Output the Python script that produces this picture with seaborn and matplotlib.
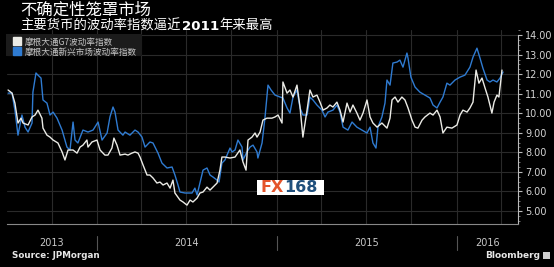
import numpy as np
import pandas as pd
import matplotlib
matplotlib.use("Agg")
import matplotlib.pyplot as plt
import matplotlib.dates as mdates
import matplotlib.transforms as mtransforms
from matplotlib.lines import Line2D
from matplotlib.patches import Rectangle
from matplotlib.ticker import FixedLocator, FormatStrFormatter, MultipleLocator
import seaborn as sns

# ---------------- data ----------------
title = "不确定性笼罩市场"
subtitle_a = "主要货币的波动率指数逼近"
subtitle_b = "2011"
subtitle_c = "年来最高"
series_names = ["摩根大通G7波动率指数", "摩根大通新兴市场波动率指数"]
year_labels = ["2013", "2014", "2015", "2016"]
y_ticks = [5, 6, 7, 8, 9, 10, 11, 12, 13, 14]
source_text = "Source: JPMorgan"
brand_text = "Bloomberg"

# dates as decimal years
g7_t = [2013.506, 2013.528, 2013.544, 2013.561, 2013.578, 2013.589, 2013.617, 2013.639, 2013.656, 2013.672,
        2013.694, 2013.700, 2013.722, 2013.739, 2013.756, 2013.783, 2013.806, 2013.822, 2013.839, 2013.867,
        2013.889, 2013.906, 2013.922, 2013.944, 2013.950, 2013.972, 2014.000, 2014.017, 2014.044, 2014.061,
        2014.083, 2014.094, 2014.111, 2014.128, 2014.156, 2014.172, 2014.194, 2014.211, 2014.228, 2014.239,
        2014.256, 2014.278, 2014.294, 2014.311, 2014.333, 2014.350, 2014.367, 2014.389, 2014.406, 2014.422,
        2014.433, 2014.461, 2014.478, 2014.500, 2014.517, 2014.533, 2014.556, 2014.572, 2014.589, 2014.611,
        2014.628, 2014.644, 2014.667, 2014.683, 2014.694, 2014.711, 2014.739, 2014.767, 2014.794, 2014.811,
        2014.828, 2014.839, 2014.861, 2014.878, 2014.889, 2014.906, 2014.922, 2014.944, 2014.972, 2014.989,
        2015.006, 2015.028, 2015.033, 2015.056, 2015.072, 2015.089, 2015.111, 2015.128, 2015.144, 2015.167,
        2015.183, 2015.200, 2015.222, 2015.239, 2015.256, 2015.278, 2015.294, 2015.311, 2015.333, 2015.350,
        2015.367, 2015.389, 2015.406, 2015.422, 2015.444, 2015.461, 2015.478, 2015.500, 2015.517, 2015.533,
        2015.556, 2015.583, 2015.611, 2015.628, 2015.639, 2015.656, 2015.672, 2015.694, 2015.711, 2015.728,
        2015.750, 2015.767, 2015.783, 2015.806, 2015.822, 2015.850, 2015.867, 2015.889, 2015.906, 2015.922,
        2015.944, 2015.972, 2016.000, 2016.017, 2016.033, 2016.056, 2016.072, 2016.089, 2016.106, 2016.122,
        2016.139, 2016.156, 2016.172, 2016.194, 2016.206, 2016.222, 2016.233, 2016.250]
g7_v = [11.19, 11.03, 10.52, 9.50, 9.75, 9.50, 9.40, 9.81, 9.91, 10.16,
        9.75, 9.24, 8.88, 8.78, 8.63, 8.48, 8.02, 7.61, 8.12, 8.12,
        7.96, 8.27, 8.37, 8.63, 8.27, 8.53, 8.63, 8.12, 7.86, 7.86,
        8.22, 8.73, 8.37, 7.86, 7.91, 7.86, 7.96, 8.02, 7.96, 7.76,
        7.35, 6.84, 6.84, 6.69, 6.43, 6.48, 6.33, 6.43, 6.17, 6.58,
        5.92, 5.56, 5.46, 5.30, 5.56, 5.46, 5.66, 5.92, 5.97, 6.22,
        6.07, 6.22, 6.43, 7.09, 7.76, 7.76, 7.71, 7.76, 8.12, 7.51,
        7.09, 8.63, 8.78, 8.99, 8.78, 9.04, 9.65, 9.75, 9.75, 9.81,
        9.91, 9.50, 11.60, 11.03, 11.19, 10.83, 11.44, 10.32, 8.78, 10.16,
        11.19, 10.83, 10.93, 10.57, 10.16, 10.27, 10.42, 10.32, 10.57, 10.16,
        9.55, 10.52, 10.06, 10.42, 10.01, 9.65, 10.01, 10.68, 9.81, 9.50,
        9.29, 9.50, 9.24, 9.75, 10.68, 10.83, 10.57, 10.83, 10.68, 10.27,
        9.65, 9.29, 9.24, 9.65, 9.81, 10.01, 9.91, 10.16, 9.81, 8.99,
        9.29, 9.24, 9.40, 9.91, 10.16, 10.06, 10.27, 10.57, 12.21, 11.54,
        11.80, 11.29, 10.83, 10.01, 10.57, 10.93, 10.83, 12.21]

em_t = [2013.506, 2013.528, 2013.544, 2013.561, 2013.583, 2013.600, 2013.617, 2013.639, 2013.644, 2013.661,
        2013.672, 2013.689, 2013.700, 2013.722, 2013.739, 2013.756, 2013.778, 2013.806, 2013.833, 2013.850,
        2013.867, 2013.878, 2013.894, 2013.922, 2013.950, 2013.978, 2014.006, 2014.028, 2014.056, 2014.072,
        2014.089, 2014.100, 2014.117, 2014.144, 2014.156, 2014.183, 2014.211, 2014.228, 2014.250, 2014.267,
        2014.294, 2014.311, 2014.339, 2014.361, 2014.389, 2014.417, 2014.433, 2014.450, 2014.461, 2014.489,
        2014.528, 2014.544, 2014.556, 2014.572, 2014.589, 2014.611, 2014.628, 2014.644, 2014.667, 2014.678,
        2014.694, 2014.711, 2014.739, 2014.750, 2014.767, 2014.783, 2014.806, 2014.811, 2014.833, 2014.850,
        2014.867, 2014.889, 2014.894, 2014.917, 2014.933, 2014.950, 2014.967, 2014.989, 2015.017, 2015.033,
        2015.056, 2015.072, 2015.089, 2015.111, 2015.128, 2015.144, 2015.167, 2015.183, 2015.200, 2015.222,
        2015.250, 2015.267, 2015.283, 2015.311, 2015.333, 2015.350, 2015.367, 2015.394, 2015.417, 2015.444,
        2015.472, 2015.500, 2015.517, 2015.533, 2015.550, 2015.561, 2015.583, 2015.600, 2015.611, 2015.628,
        2015.644, 2015.667, 2015.683, 2015.700, 2015.722, 2015.728, 2015.744, 2015.767, 2015.794, 2015.822,
        2015.850, 2015.867, 2015.889, 2015.906, 2015.922, 2015.944, 2015.961, 2015.989, 2016.017, 2016.044,
        2016.072, 2016.089, 2016.111, 2016.128, 2016.144, 2016.167, 2016.183, 2016.200, 2016.222, 2016.239,
        2016.256]
em_v = [11.03, 11.03, 10.16, 8.88, 9.91, 9.29, 9.04, 9.50, 11.08, 12.06,
        11.95, 11.80, 10.68, 10.52, 9.91, 10.06, 9.75, 9.14, 8.27, 8.12,
        9.55, 8.63, 8.48, 9.14, 9.04, 9.14, 9.55, 8.63, 8.99, 9.81,
        10.32, 10.06, 9.14, 8.88, 9.04, 8.88, 9.14, 9.04, 8.78, 8.27,
        8.53, 8.48, 7.96, 7.45, 7.20, 7.25, 6.84, 6.33, 5.97, 5.92,
        5.92, 6.17, 5.82, 6.43, 7.09, 7.20, 6.84, 6.74, 6.58, 6.48,
        7.45, 7.61, 8.22, 8.02, 8.12, 8.63, 8.27, 7.61, 8.02, 8.27,
        8.37, 8.02, 7.71, 8.48, 9.75, 11.44, 11.19, 10.93, 10.83, 10.78,
        10.27, 10.01, 10.83, 11.19, 10.27, 9.91, 9.91, 10.83, 10.68, 10.42,
        10.16, 9.81, 10.06, 10.16, 10.42, 10.06, 9.29, 9.14, 9.55, 9.29,
        9.14, 8.99, 9.29, 8.48, 8.22, 9.29, 9.81, 10.52, 11.70, 11.44,
        12.57, 12.62, 12.72, 12.36, 13.08, 12.82, 11.85, 11.34, 11.08, 10.93,
        10.78, 10.42, 10.27, 10.57, 10.83, 11.54, 11.44, 11.70, 11.85, 11.95,
        12.36, 12.87, 13.33, 12.82, 12.31, 11.70, 11.60, 11.70, 11.60, 11.80,
        12.11]

x_start_year = 2013.500
x_end_year = 2016.339
y_min, y_max = 4.36, 14.26

# ---------------- helpers ----------------
def to_date(yrs):
    yrs = np.asarray(yrs, dtype=float)
    base = pd.Timestamp("2013-01-01")
    return base + pd.to_timedelta((yrs - 2013.0) * 365.25, unit="D")

g7_df = pd.DataFrame({"date": to_date(g7_t), "value": g7_v})
em_df = pd.DataFrame({"date": to_date(em_t), "value": em_v})

# ---------------- style ----------------
sns.set_theme(style="dark")
plt.rcParams.update({
    "figure.facecolor": "black",
    "axes.facecolor": "black",
    "savefig.facecolor": "black",
    "axes.edgecolor": "#888888",
    "text.color": "#d0d0d0",
})
plt.rcParams["font.family"] = ["DejaVu Sans", "Noto Sans CJK SC"]
cjk = ["Noto Sans CJK SC", "DejaVu Sans"]

W, H = 554, 267
fig = plt.figure(figsize=(W / 100, H / 100), dpi=100)
ax_left, ax_right, ax_top, ax_bottom = 7, 518, 30, 223.5
ax = fig.add_axes([ax_left / W, 1 - ax_bottom / H, (ax_right - ax_left) / W, (ax_bottom - ax_top) / H])
ax.set_facecolor("black")

g7_color = "#ebebe6"
em_color = "#2f7bd1"

sns.lineplot(data=em_df, x="date", y="value", ax=ax, color=em_color, linewidth=1.0,
             estimator=None, sort=False, legend=False, zorder=3)
sns.lineplot(data=g7_df, x="date", y="value", ax=ax, color=g7_color, linewidth=1.0,
             estimator=None, sort=False, legend=False, zorder=4)

xmin = to_date([x_start_year])[0]
xmax = to_date([x_end_year])[0]
ax.set_xlim(xmin, xmax)
ax.set_ylim(y_min, y_max)
ax.set_xlabel("")
ax.set_ylabel("")

# grid
ax.xaxis.set_major_locator(mdates.MonthLocator(bymonth=[1, 4, 7, 10]))
ax.xaxis.set_minor_locator(mdates.MonthLocator())
ax.xaxis.set_major_formatter(plt.NullFormatter())
ax.yaxis.set_major_locator(FixedLocator(y_ticks))
ax.yaxis.set_minor_locator(MultipleLocator(0.25))
ax.yaxis.set_major_formatter(FormatStrFormatter("%.2f"))
ax.grid(True, which="major", color="#2a2a2a", linewidth=0.8)
ax.grid(False, which="minor")
ax.set_axisbelow(True)

ax.yaxis.tick_right()
ax.tick_params(axis="y", which="major", direction="out", length=3, width=0.8, color="#bbbbbb",
               labelcolor="#d4d4d4", labelsize=7, pad=2)
ax.tick_params(axis="y", which="minor", direction="out", length=1.5, width=0.6, color="#888888")
ax.tick_params(axis="x", which="both", direction="out", length=2, width=0.6, color="#888888",
               labelbottom=False)
ax.tick_params(axis="y", left=False)

for s in ["left", "top"]:
    ax.spines[s].set_visible(False)
ax.spines["right"].set_color("#bbbbbb")
ax.spines["right"].set_linewidth(0.8)
ax.spines["right"].set_bounds(y_min, 14)
ax.spines["bottom"].set_color("#888888")
ax.spines["bottom"].set_linewidth(0.8)

# year separators and labels
trans = mtransforms.blended_transform_factory(ax.transData, ax.transAxes)
ax_h = ax_bottom - ax_top
for yl in year_labels:
    y0 = pd.Timestamp(f"{yl}-01-01")
    y1 = pd.Timestamp(f"{int(yl) + 1}-01-01")
    if xmin < y0 < xmax:
        ax.plot([y0, y0], [-(236 - ax_bottom) / ax_h, -(250 - ax_bottom) / ax_h], transform=trans,
                color="#555555", linewidth=0.8, clip_on=False)
    a = max(y0, xmin)
    b = min(y1, xmax)
    mid = a + (b - a) / 2
    ax.text(mid, -(243 - ax_bottom) / ax_h, yl, transform=trans, ha="center", va="center",
            fontsize=7, color="#c8c8c8")

# legend (frameless, over a dark panel drawn inside the axes)
panel = Rectangle((6 / W, 1 - 56 / H), 136 / W, 22 / H, transform=fig.transFigure,
                  facecolor="#1b1b1b", edgecolor="none", zorder=5, clip_on=False)
ax.add_artist(panel)
handles = [Line2D([], [], marker="s", linestyle="none", markersize=5.5, markerfacecolor=c,
                  markeredgecolor=c) for c in (g7_color, em_color)]
leg = ax.legend(handles, series_names, loc="upper left", bbox_to_anchor=(14 / W, 1 - 37.5 / H),
                bbox_transform=fig.transFigure, frameon=False, fontsize=6.2, labelcolor="#c4c4c4",
                handlelength=0.8, handletextpad=0.5, borderpad=0, labelspacing=0.1,
                borderaxespad=0)
for t in leg.get_texts():
    t.set_family(cjk)
leg.set_zorder(10)

# titles
fig.text(20 / W, 1 - 14 / H, title, fontsize=11.8, color="white", va="baseline", ha="left",
         family=cjk, weight="medium")
renderer = fig.canvas.get_renderer()
sub_base = 1 - 29.5 / H
t1 = fig.text(20 / W, sub_base, subtitle_a, fontsize=9.6, color="white", va="baseline", ha="left",
              family=cjk)
bb = t1.get_window_extent(renderer)
t2 = fig.text(bb.x1 / W + 1 / W, sub_base, subtitle_b, fontsize=9.6, color="white", va="baseline",
              ha="left", family=["DejaVu Sans"], weight="bold")
bb2 = t2.get_window_extent(renderer)
fig.text(bb2.x1 / W + 1 / W, sub_base, subtitle_c, fontsize=9.6, color="white", va="baseline",
         ha="left", family=cjk)

# footer
fig.text(12 / W, 1 - 255 / H, source_text, fontsize=6.3, weight="bold", color="#e6e6e6",
         va="center", ha="left")
fig.text(540 / W, 1 - 255 / H, brand_text, fontsize=6.5, weight="bold", color="#e6e6e6",
         va="center", ha="right")
fig.patches.append(Rectangle((543 / W, 1 - 259 / H), 7 / W, 7 / H, transform=fig.transFigure,
                             facecolor="#cfcfcf", edgecolor="none"))

# FX168 watermark
fig.patches.append(Rectangle((257 / W, 1 - 195 / H), 67 / W, 15 / H, transform=fig.transFigure,
                             facecolor="white", edgecolor="none", zorder=20))
fx = fig.text(261 / W, 1 - 187.5 / H, "FX", fontsize=11.5, weight="bold", color="#e4542b",
              va="center", ha="left", zorder=21)
bbf = fx.get_window_extent(renderer)
fig.text(bbf.x1 / W, 1 - 187.5 / H, "168", fontsize=11.5, weight="bold", color="#1f4f7c",
         va="center", ha="left", zorder=21)

fig.savefig("out.png", dpi=100, facecolor="black")
